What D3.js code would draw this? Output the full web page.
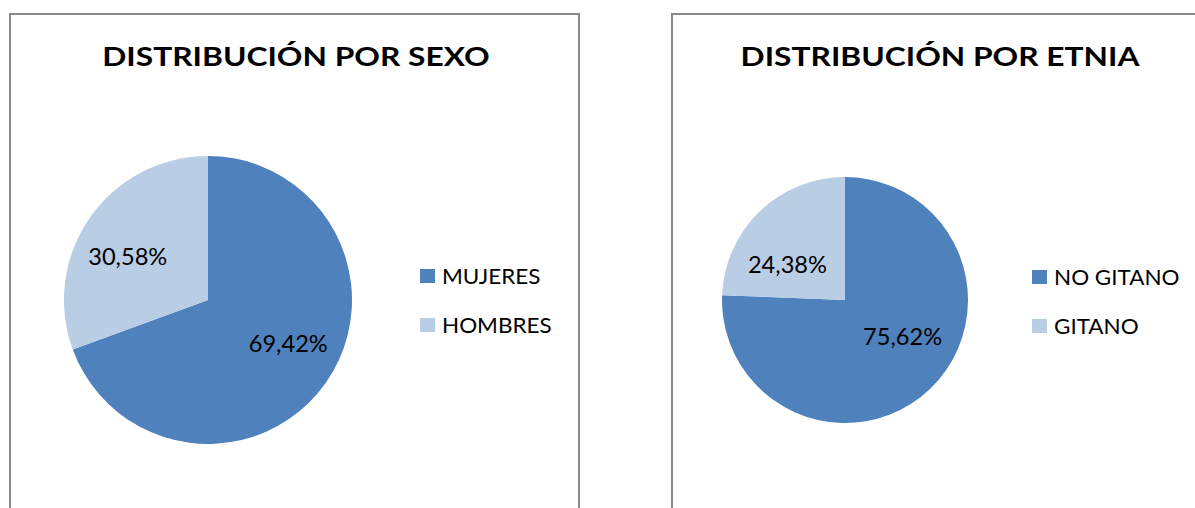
<!DOCTYPE html>
<html>
<head>
<meta charset="utf-8">
<script src="https://cdn.jsdelivr.net/npm/d3@7"></script>
<style>
  body { margin: 0; background: #fff; }
  text { font-family: Lato, "Open Sans", sans-serif; fill: #000; }
</style>
</head>
<body>
<div class="canvas"></div>
<script>
// data
const sexoLabels = ['MUJERES', 'HOMBRES'];
const sexoValues = [69.42, 30.58];
const etniaLabels = ['NO GITANO', 'GITANO'];
const etniaValues = [75.62, 24.38];

const colors = ['#4F81BD', '#B9CDE5'];

const svg = d3.select('.canvas')
  .append('svg')
  .attr('width', 1195)
  .attr('height', 508);

const fmt = v => v.toFixed(2).replace('.', ',') + '%';

// stretch text so its width matches the original font
const stretch = (sel, k) => sel.each(function() {
  const w = this.getComputedTextLength();
  d3.select(this)
    .attr('textLength', w * k)
    .attr('lengthAdjust', 'spacingAndGlyphs');
});

const drawPanel = (cfg) => {
  const g = svg.append('g');

  // frame
  g.append('rect')
    .attr('x', cfg.x)
    .attr('y', 14)
    .attr('width', cfg.w)
    .attr('height', 520)
    .attr('fill', '#fff')
    .attr('stroke', '#888')
    .attr('stroke-width', 2);

  g.append('text')
    .attr('x', cfg.titleX)
    .attr('y', 66)
    .attr('text-anchor', 'middle')
    .attr('font-weight', 'bold')
    .attr('font-size', 27)
    .text(cfg.title)
    .call(stretch, 1.175);

  const color = d3.scaleOrdinal().domain(cfg.labels).range(colors);

  const pie = d3.pie().sort(null).value(d => d.value);
  const arc = d3.arc().innerRadius(0).outerRadius(cfg.r);
  const lr = cfg.r * cfg.labelK;
  const labelArc = d3.arc().innerRadius(lr).outerRadius(lr);

  const data = cfg.labels.map((l, i) => ({label: l, value: cfg.values[i]}));

  const pg = g.append('g')
    .attr('transform', `translate(${cfg.cx}, ${cfg.cy})`);

  pg.selectAll('path')
    .data(pie(data))
    .enter()
    .append('path')
    .attr('d', arc)
    .attr('fill', d => color(d.data.label));

  pg.selectAll('.lbl')
    .data(pie(data))
    .enter()
    .append('text')
    .classed('lbl', true)
    .attr('transform', d => {
      const [x, y] = labelArc.centroid(d);
      return `translate(${x}, ${y * cfg.squash})`;
    })
    .attr('text-anchor', 'middle')
    .attr('dy', '0.36em')
    .attr('font-size', 24)
    .text(d => fmt(d.data.value))
    .call(stretch, 0.984);

  // legend
  const leg = g.selectAll('.leg')
    .data(cfg.labels)
    .enter()
    .append('g')
    .classed('leg', true)
    .attr('transform', (d, i) => `translate(${cfg.legX}, ${cfg.legY + i * 49})`);

  leg.append('rect')
    .attr('width', 15)
    .attr('height', 14)
    .attr('fill', d => color(d));

  leg.append('text')
    .attr('x', 22)
    .attr('y', 15)
    .attr('font-size', 22)
    .text(d => d)
    .call(stretch, 1.02);
};

drawPanel({x: 10, w: 569, title: 'DISTRIBUCIÓN POR SEXO', titleX: 296,
  labels: sexoLabels, values: sexoValues, cx: 208, cy: 300, r: 144,
  labelK: 0.68, squash: 0.78, legX: 420, legY: 269});

drawPanel({x: 672, w: 600, title: 'DISTRIBUCIÓN POR ETNIA', titleX: 940,
  labels: etniaLabels, values: etniaValues, cx: 845, cy: 300, r: 123,
  labelK: 0.675, squash: 0.6, legX: 1032, legY: 270});
</script>
</body>
</html>
